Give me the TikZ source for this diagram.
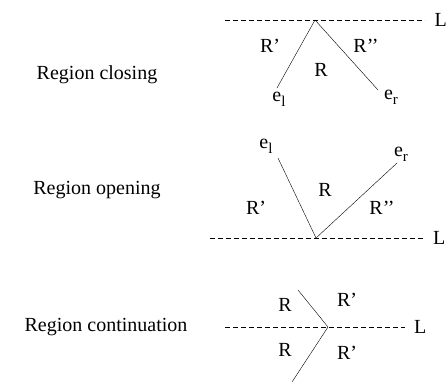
\documentclass[tikz,border=0pt]{standalone}
\usepackage{fontspec}
\setmainfont{Liberation Serif}
\usepackage{tikz}
\usetikzlibrary{positioning}

\newcommand{\lowidx}[1]{\raisebox{-0.5ex}{\fontsize{15}{15}\selectfont #1}}

\begin{document}
\begin{tikzpicture}[x=1pt, y=-1pt,
  lbl/.style={inner sep=0pt, font=\fontsize{20}{24}\selectfont},
  guide/.style={dashed, dash pattern=on 5pt off 3pt, thin},
  edge/.style={thin, black}]
  \useasboundingbox (0,0) rectangle (446,385);
  % captions
  \node[lbl] (cap1) at (97,75)  {Region closing};
  \node[lbl] (cap2) at (97,190) {Region opening};
  \node[lbl] (cap3) at (106,327) {Region continuation};

  % closing
  \coordinate (a1) at (315,20);
  \coordinate (l1s) at (225,20);
  \coordinate (l1e) at (425,20);
  \coordinate (p1) at (277,88);
  \coordinate (q1) at (378,90);
  \draw[guide] (l1s) -- (l1e);
  \draw[edge] (a1) -- (p1);
  \draw[edge] (a1) -- (q1);
  \node[lbl, anchor=west] (L1) at (434.5,20) {L};
  \node[lbl] (r1a) at (270,46) {R’};
  \node[lbl] (r1b) at (366,46) {R’’};
  \node[lbl] (r1c) at (321,70) {R};
  \node[lbl] (el1) at (279,99) {e\lowidx{l}};
  \node[lbl] (er1) at (391,97) {e\lowidx{r}};

  % opening
  \coordinate (a2) at (316,238);
  \coordinate (l2s) at (210,238);
  \coordinate (l2e) at (423,238);
  \coordinate (p2) at (278,158);
  \coordinate (q2) at (397,163);
  \draw[guide] (l2s) -- (l2e);
  \draw[edge] (p2) -- (a2);
  \draw[edge] (a2) -- (q2);
  \node[lbl, anchor=west] (L2) at (433,238) {L};
  \node[lbl] (el2) at (266,146) {e\lowidx{l}};
  \node[lbl] (er2) at (401,154) {e\lowidx{r}};
  \node[lbl] (r2c) at (325,190) {R};
  \node[lbl] (r2a) at (256,208) {R’};
  \node[lbl] (r2b) at (382,208) {R’’};

  % continuation
  \coordinate (a3) at (328,327);
  \coordinate (l3s) at (225,327);
  \coordinate (l3e) at (405,327);
  \coordinate (p3) at (298,290);
  \coordinate (q3) at (292,382);
  \draw[guide] (l3s) -- (l3e);
  \draw[edge] (p3) -- (a3);
  \draw[edge] (a3) -- (q3);
  \node[lbl, anchor=west] (L3) at (414,327) {L};
  \node[lbl] (r3a) at (285,305) {R};
  \node[lbl] (r3b) at (347,300) {R’};
  \node[lbl] (r3c) at (285,350) {R};
  \node[lbl] (r3d) at (347,353) {R’};
\end{tikzpicture}
\end{document}
